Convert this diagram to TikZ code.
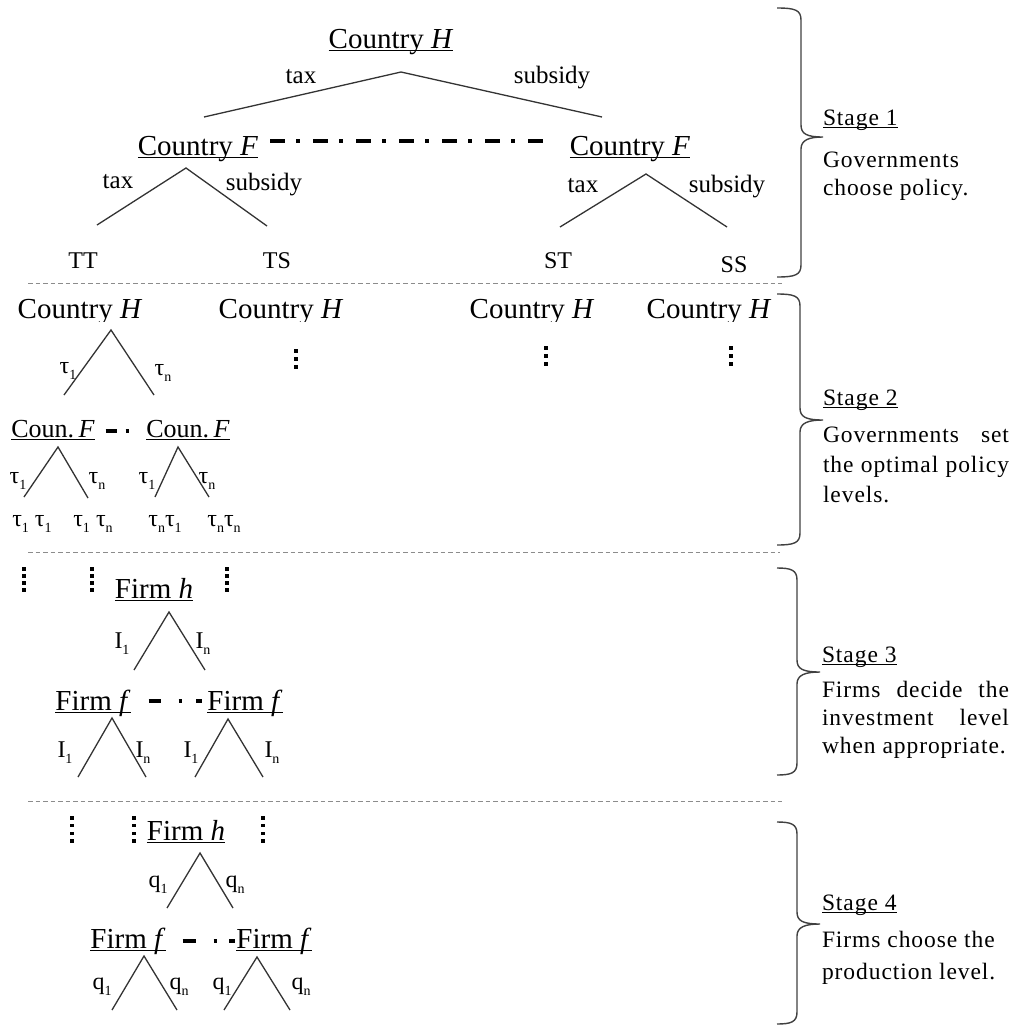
\documentclass[tikz,border=0pt]{standalone}
\usepackage{fontspec}
\setmainfont{Liberation Serif}
\newfontfamily\stagefont[LetterSpace=4]{Liberation Serif}
\newcommand\wul[1]{\setbox0=\hbox{#1}\rlap{\rule[-0.11em]{\wd0}{0.045em}}\box0}
\newcommand\sbx[2]{#1\raisebox{-0.26em}{\fontsize{14}{14}\selectfont #2}}
\newcommand\fbig{\fontsize{29}{32}\selectfont}
\newcommand\fcoun{\fontsize{26}{30}\selectfont}
\newcommand\flab{\fontsize{25}{28}\selectfont}
\newcommand\fleaf{\fontsize{24}{28}\selectfont}
\newcommand\ftau{\fontsize{24}{28}\selectfont}
\newcommand\fst{\stagefont\fontsize{23.5}{27}\selectfont}
\newcommand\stbrace[5]{%
  \draw[brc] (777,#1) .. controls (#4-6,#1) and (#4,#1+2) .. (#4,#1+12)
    -- (#4,#2-12) .. controls (#4,#2-3) and (#4+6,#2) .. (#5,#2)
    .. controls (#4+8,#2) and (#4,#2+3) .. (#4,#2+12)
    -- (#4,#3-12) .. controls (#4,#3-2) and (#4-6,#3) .. (777,#3);}
\newcommand\vdts[4]{%
  \foreach \k in {1,...,#4} \fill[black] ({#1-1.7},{#2+(\k-1)*#3-1.7}) rectangle ++(3.4,3.4);}
\begin{document}
\begin{tikzpicture}[x=1pt,y=-1pt,
  txt/.style={inner sep=0pt,outer sep=0pt,anchor=base},
  stx/.style={inner sep=0pt,outer sep=0pt,anchor=base west},
  br/.style={line width=1.3pt,draw=black!80},
  brc/.style={line width=1.4pt,draw=black!75},
  sep/.style={line width=1pt,draw=black!45,dash pattern=on 4.5pt off 3pt},
  dd/.style={line width=3.6pt,draw=black}]
\useasboundingbox (0,0) rectangle (1014,1026);

% ---------- Stage 1 ----------
\node[txt] (H1) at (391,48) {\fbig\wul{Country \textit{H}}};
\coordinate (H1a) at (401,72);
\coordinate (H1l) at (204,117);
\coordinate (H1r) at (602,117);
\draw[br] (H1l) -- (H1a) -- (H1r);
\node[txt] (t1) at (301,83) {\flab tax};
\node[txt] (s1) at (552,83) {\flab subsidy};

\node[txt] (F1) at (198,155) {\fbig\wul{Country \textit{F}}};
\node[txt] (F2) at (630,155) {\fbig\wul{Country \textit{F}}};
\draw[dd,dash pattern=on 15pt off 11pt on 4pt off 13pt]
  ([shift={(12,-14)}]F1.base east) -- ([shift={(-22,-14)}]F2.base west);

\coordinate (F1a) at (186,168);
\coordinate (F1l) at (97,225);
\coordinate (F1r) at (267,226);
\draw[br] (F1l) -- (F1a) -- (F1r);
\node[txt] (t2) at (118,188) {\flab tax};
\node[txt] (s2) at (264,190) {\flab subsidy};
\node[txt] (TT) at (83,268) {\fleaf TT};
\node[txt] (TS) at (277,268) {\fleaf TS};

\coordinate (F2a) at (646,174);
\coordinate (F2l) at (560,227);
\coordinate (F2r) at (727,227);
\draw[br] (F2l) -- (F2a) -- (F2r);
\node[txt] (t3) at (583,192) {\flab tax};
\node[txt] (s3) at (727,192) {\flab subsidy};
\node[txt] (ST) at (558,268) {\fleaf ST};
\node[txt] (SS) at (734,272) {\fleaf SS};

\draw[sep] (28,283) -- (782,283);

% ---------- Stage 2 ----------
\begin{scope}
\clip (0,290) rectangle (790,321);
\node[txt] (H2a) at (80,318) {\fbig Country \textit{H}};
\node[txt] (H2b) at (281,318) {\fbig Country \textit{H}};
\node[txt] (H2c) at (532,318) {\fbig Country \textit{H}};
\node[txt] (H2d) at (709,318) {\fbig Country \textit{H}};
\end{scope}
\vdts{296}{351}{8}{3}
\vdts{546}{348}{8}{3}
\vdts{731}{348}{8}{3}

\coordinate (G1a) at (111,330);
\coordinate (G1l) at (64,395);
\coordinate (G1r) at (154,395);
\draw[br] (G1l) -- (G1a) -- (G1r);
\node[txt] (u1) at (68,373) {\ftau\sbx{τ}{1}};
\node[txt] (u2) at (163,375) {\ftau\sbx{τ}{n}};

\node[txt] (C1) at (53,437) {\fcoun\wul{Coun.\,\textit{F}}};
\node[txt] (C2) at (188,437) {\fcoun\wul{Coun.\,\textit{F}}};
\draw[dd,line width=3.4pt,dash pattern=on 11pt off 9pt on 3.5pt off 20pt]
  ([shift={(11,-6)}]C1.base east) -- ([shift={(-13,-6)}]C2.base west);

\coordinate (C1a) at (58,447);
\coordinate (C1l) at (24,497);
\coordinate (C1r) at (88,498);
\draw[br] (C1l) -- (C1a) -- (C1r);
\node[txt] (u3) at (18,483) {\ftau\sbx{τ}{1}};
\node[txt] (u4) at (97,483) {\ftau\sbx{τ}{n}};
\coordinate (C2a) at (178,447);
\coordinate (C2l) at (155,497);
\coordinate (C2r) at (209,497);
\draw[br] (C2l) -- (C2a) -- (C2r);
\node[txt] (u5) at (147,483) {\ftau\sbx{τ}{1}};
\node[txt] (u6) at (207,483) {\ftau\sbx{τ}{n}};

\node[txt] (v1) at (32,526) {\ftau\sbx{τ}{1} \sbx{τ}{1}};
\node[txt] (v2) at (93,526) {\ftau\sbx{τ}{1} \sbx{τ}{n}};
\node[txt] (v3) at (165,526) {\ftau\sbx{τ}{n}\sbx{τ}{1}};
\node[txt] (v4) at (224,526) {\ftau\sbx{τ}{n}\sbx{τ}{n}};

\draw[sep] (28,552) -- (780,552);

% ---------- Stage 3 ----------
\vdts{24}{569}{7}{4}
\vdts{92}{569}{7}{4}
\vdts{227}{569}{7}{4}
\node[txt] (Fh3) at (154,598) {\fbig\wul{Firm \textit{h}}};
\coordinate (Fh3a) at (169,612);
\coordinate (Fh3l) at (134,670);
\coordinate (Fh3r) at (205,670);
\draw[br] (Fh3l) -- (Fh3a) -- (Fh3r);
\node[txt] (i1) at (122,648) {\ftau\sbx{I}{1}};
\node[txt] (i2) at (203,648) {\ftau\sbx{I}{n}};

\node[txt] (Ff3a) at (93,710) {\fbig\wul{Firm \textit{f}}};
\node[txt] (Ff3b) at (245,710) {\fbig\wul{Firm \textit{f}}};
\draw[dd,line width=3.4pt,dash pattern=on 12pt off 18pt on 3.5pt off 14pt on 9pt off 20pt]
  ([shift={(18,-9)}]Ff3a.base east) -- ([shift={(-5,-9)}]Ff3b.base west);

\coordinate (P1a) at (112,718);
\coordinate (P1l) at (78,777);
\coordinate (P1r) at (146,777);
\draw[br] (P1l) -- (P1a) -- (P1r);
\node[txt] (i3) at (65,757) {\ftau\sbx{I}{1}};
\node[txt] (i4) at (143,757) {\ftau\sbx{I}{n}};
\coordinate (P2a) at (228,719);
\coordinate (P2l) at (195,777);
\coordinate (P2r) at (263,777);
\draw[br] (P2l) -- (P2a) -- (P2r);
\node[txt] (i5) at (191,757) {\ftau\sbx{I}{1}};
\node[txt] (i6) at (272,757) {\ftau\sbx{I}{n}};

\draw[sep] (28,801) -- (782,801);

% ---------- Stage 4 ----------
\vdts{72}{818}{7.7}{4}
\vdts{134}{818}{7.7}{4}
\vdts{263}{818}{7.7}{4}
\node[txt] (Fh4) at (186,840) {\fbig\wul{Firm \textit{h}}};
\coordinate (Fh4a) at (200,853);
\coordinate (Fh4l) at (167,908);
\coordinate (Fh4r) at (233,908);
\draw[br] (Fh4l) -- (Fh4a) -- (Fh4r);
\node[txt] (q1) at (158,887) {\ftau\sbx{q}{1}};
\node[txt] (q2) at (235,887) {\ftau\sbx{q}{n}};

\node[txt] (Ff4a) at (128,948) {\fbig\wul{Firm \textit{f}}};
\node[txt] (Ff4b) at (274,948) {\fbig\wul{Firm \textit{f}}};
\draw[dd,line width=3.4pt,dash pattern=on 13pt off 18pt on 3.5pt off 12pt on 11pt off 20pt]
  ([shift={(17,-7)}]Ff4a.base east) -- ([shift={(-1,-7)}]Ff4b.base west);

\coordinate (Q1a) at (144,956);
\coordinate (Q1l) at (112,1010);
\coordinate (Q1r) at (177,1010);
\draw[br] (Q1l) -- (Q1a) -- (Q1r);
\node[txt] (q3) at (102,989) {\ftau\sbx{q}{1}};
\node[txt] (q4) at (179,989) {\ftau\sbx{q}{n}};
\coordinate (Q2a) at (257,957);
\coordinate (Q2l) at (224,1010);
\coordinate (Q2r) at (290,1010);
\draw[br] (Q2l) -- (Q2a) -- (Q2r);
\node[txt] (q5) at (222,989) {\ftau\sbx{q}{1}};
\node[txt] (q6) at (301,989) {\ftau\sbx{q}{n}};

% ---------- Braces and stage texts ----------
\stbrace{8}{137}{277}{801}{823}
\stbrace{294}{420}{545}{800}{823}
\stbrace{568}{672}{775}{797}{820}
\stbrace{822}{924}{1024}{797}{820}

\node[stx] (S1) at (823,125) {\fst\wul{Stage 1}};
\node[stx] (S1a) at (823,167) {\fst Governments};
\node[stx] (S1b) at (823,195) {\fst choose policy.};

\node[stx] (S2) at (823,405) {\fst\wul{Stage 2}};
\node[stx] (S2a) at (823,442) {\fst\makebox[186pt][s]{Governments set}};
\node[stx] (S2b) at (823,472) {\fst\makebox[186pt][s]{the optimal policy}};
\node[stx] (S2c) at (823,502) {\fst levels.};

\node[stx] (S3) at (822,662) {\fst\wul{Stage 3}};
\node[stx] (S3a) at (822,697) {\fst\makebox[187pt][s]{Firms decide the}};
\node[stx] (S3b) at (822,725) {\fst\makebox[187pt][s]{investment level}};
\node[stx] (S3c) at (822,753) {\fst when appropriate.};

\node[stx] (S4) at (822,910) {\fst\wul{Stage 4}};
\node[stx] (S4a) at (822,947) {\fst Firms choose the};
\node[stx] (S4b) at (822,979) {\fst production level.};
\end{tikzpicture}
\end{document}
